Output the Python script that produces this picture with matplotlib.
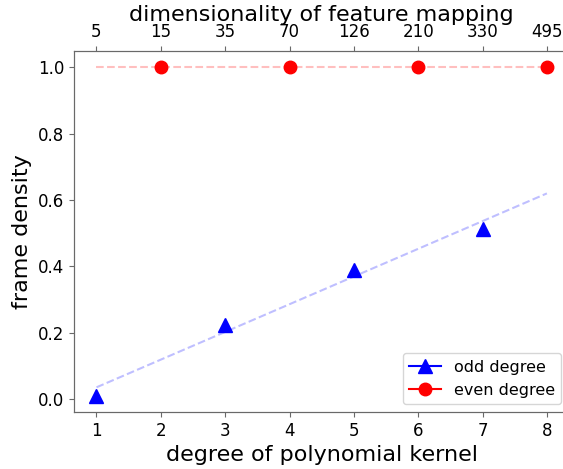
import matplotlib
matplotlib.use('Agg')
import matplotlib.pyplot as plt
from matplotlib.lines import Line2D

# data
odd_deg = [1, 3, 5, 7]
odd_density = [0.01, 0.223, 0.388, 0.512]
even_deg = [2, 4, 6, 8]
even_density = [1.0, 1.0, 1.0, 1.0]

# trend lines (dashed, faint)
odd_fit_x = [1, 8]
odd_fit_y = [0.035, 0.62]
even_fit_x = [1, 8]
even_fit_y = [1.0, 1.0]

top_ticks = [1, 2, 3, 4, 5, 6, 7, 8]
top_labels = ['5', '15', '35', '70', '126', '210', '330', '495']

GRAY = 'dimgray'

fig = plt.figure(figsize=(5.63, 4.69), dpi=100)
ax = fig.add_axes([0.1314, 0.1215, 0.880, 0.7697])

ax.plot(odd_fit_x, odd_fit_y, '--', color='blue', alpha=0.25)
ax.plot(even_fit_x, even_fit_y, '--', color='red', alpha=0.25)
ax.plot(odd_deg, odd_density, '^', color='blue', markersize=10, ls='none')
ax.plot(even_deg, even_density, 'o', color='red', markersize=9, ls='none')

ax.set_xlim(0.65, 8.35)
ax.set_ylim(-0.0395, 1.0495)
ax.set_xticks(range(1, 9))
ax.set_yticks([0.0, 0.2, 0.4, 0.6, 0.8, 1.0])
ax.set_xlabel('degree of polynomial kernel', fontsize=16)
ax.set_ylabel('frame density', fontsize=16)
ax.tick_params(labelsize=12, color=GRAY)
for s in ax.spines.values():
    s.set_color(GRAY)

ax2 = ax.twiny()
ax2.set_xlim(ax.get_xlim())
ax2.set_xticks(top_ticks)
ax2.set_xticklabels(top_labels)
ax2.set_xlabel('dimensionality of feature mapping', fontsize=16, labelpad=2)
ax2.tick_params(labelsize=12, color=GRAY)
for s in ax2.spines.values():
    s.set_color(GRAY)

handles = [
    Line2D([], [], color='blue', marker='^', markersize=10),
    Line2D([], [], color='red', marker='o', markersize=9),
]
ax.legend(handles, ['odd degree', 'even degree'], loc='lower right', fontsize=11.5)

plt.savefig('out.png', dpi=100)
